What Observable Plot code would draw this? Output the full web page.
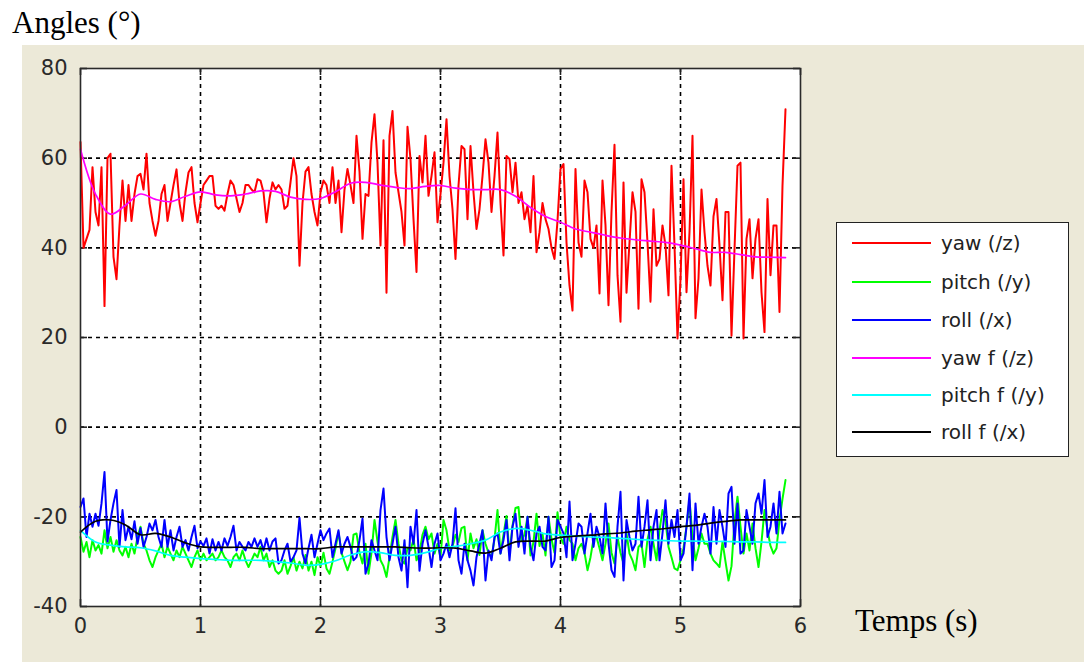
<!DOCTYPE html>
<html><head><meta charset="utf-8">
<script src="https://cdn.jsdelivr.net/npm/d3@7"></script>
<script src="https://cdn.jsdelivr.net/npm/@observablehq/plot@0.6"></script>
<style>
body{margin:0;background:#fff;}
#wrap{position:relative;width:1084px;height:662px;overflow:hidden;}
#panel{position:absolute;left:22px;top:45px;width:1062px;height:617px;background:#ECE9D8;}
#chart{position:absolute;left:0;top:0;}
.t{position:absolute;font-family:"Liberation Serif","Times New Roman",serif;font-size:31px;line-height:31px;color:#000;white-space:nowrap;}
#legend{position:absolute;left:836px;top:222px;width:231px;height:233px;border:1.5px solid #222;background:#fff;}
.row{position:absolute;left:0;height:26px;display:flex;align-items:center;font-family:"DejaVu Sans",sans-serif;font-size:20px;color:#222;white-space:nowrap;}
.sw{display:inline-block;width:79px;height:0;border-top:2px solid #000;margin-left:15px;margin-right:10px;}
</style>
</head><body>
<div id="wrap">
  <div id="panel"></div>
  <div id="chart"></div>
  <div class="t" id="title" style="left:12px;top:7px;">Angles (°)</div>
  <div class="t" id="xlab" style="left:855px;top:605px;">Temps (s)</div>
  <div id="legend"></div>
</div>
<script>
// ---- data ----
const dtRaw = 0.025;   // sampling step of raw signals (s)
const dtFilt = 0.125;  // step of filtered signals (s)

const yaw = [63.6,40,42,44,58,48,45,58,27,60,
61,38,33,45,55,46,54,46,52,56,
56.5,53,61,50,46,42.7,46,52,54,46,
50,54,57.5,50,46,52.4,56.8,58,50,45.7,
50,54,55,56,56,49.4,48.7,49.4,48.3,52,
55,54,51,48,50,54,54,53,52.4,55.3,
55,52.4,45.7,51,54.6,53,54,53,48.7,49.4,
54.6,60,56,36,50,57,58,52,48,45,
52.4,
55,54,50,58,50,55,43.5,53,57.6,54,
50,65,57,42,52,51.6,63.5,69.8,59,40.5,
64,30,65,70.5,56.8,52.4,48,40.5,67,59.8,
46.4,34.6,60.5,54.6,65,51.6,56,61.3,45.7,52,
59,68.7,56,48.6,37.5,53.9,62.7,62,46.4,62.7,
52.4,44.2,48.6,56,64.2,59,48,56,65.7,50,
38.3,60.5,59.8,52.4,59,50,52.4,46.4,49.4,43.5,
56,39,43.5,50,46.4,44.2,40,37.5,46,57.6,
58.7,41.2,31.6,26,57.6,41.2,38,55,52.4,42,
40,45,29.8,55,45,27.2,48,63,33.9,23.5,
54.6,30,41.2,52.4,48,26.4,55.3,52.4,41.2,28,
48.6,36,37.5,45,40.5,29.4,58.3,40.5,19.8,33,
55.3,30.1,43.5,65,24.3,33.2,53,43.5,36,31.6,
47,50.9,40.5,28.3,48,48,20.4,39.7,58.3,59,
19.8,42,46.4,33.2,42,46.4,30.1,21.2,50.9,33.9,
45,45,25.7,53.9,70.9];

const pitch = [-24.5,-27.8,-25.6,-29,-25.2,-27.5,-26.3,-28.2,-23,-27,
-24.5,-27.8,-25.2,-27.5,-28.6,-26.7,-29,-26,-28.2,-24.5,
-22.2,-26,-27.5,-29.7,-31.2,-29,-27.5,-26,-29,-26.7,
-28.2,-29.7,-27.5,-29,-26.7,-28.2,-29.7,-31.2,-29,-27.5,
-29.7,-28.2,-29.7,-29,-28.2,-29.7,-29,-27.5,-29,-29.7,
-31.2,-29,-28.2,-29.7,-27.5,-29.7,-31.2,-29.7,-28.2,-29,
-26.7,-29.7,-28.2,-31.2,-29.7,-32,-32.7,-32,-29.7,-32.7,
-31,-29,-32,-30,-31.5,-28.5,-32,-30,-33,-29,
-31,
-28,-31.5,-32.7,-30,-27,-23.4,-28,-30,-31.9,-30,
-24,-23.7,-28,-30.4,-26,-32.7,-28,-20.7,-25.5,-29.7,
-31,-33.4,-29,-24.5,-20.7,-26,-29.7,-30.4,-27,-27.5,
-25,-29.7,-28,-24,-22.2,-25,-23.7,-28.2,-26,-29,
-20.7,-23,-27.5,-26.7,-24,-25.6,-22.5,-22.2,-29.7,-23.7,
-27,-25,-28.5,-23,-26,-28,-29,-25,-18.5,-28.2,
-24,-19.8,-28.2,-22,-18,-17.8,-25.2,-24,-20,-28.6,
-25.6,-19.3,-26.5,-23.7,-28.6,-20,-25,-28,-19,-24.5,
-26,-22.2,-25.2,-26,-29.7,-27,-26,-28,-31.9,-29,
-25,-24.5,-27,-29.7,-26,-21.5,-28,-30.4,-24.5,-28,
-30.4,-23.7,-28.2,-29.7,-31.9,-26.7,-26,-31.2,-25,-22.2,
-26,-29.7,-23,-18.5,-21,-26.7,-29,-31.5,-31.9,-29.7,
-27,-22.2,-16.3,-24.5,-29.7,-27,-23.7,-26,-26,-28.2,
-29.7,-30.4,-31.2,-25.6,-30,-34.2,-31,-21,-15.5,-22.2,
-28.2,-23.7,-27.5,-21.5,-27,-31.2,-25.6,-18.5,-23,-26.5,
-28.2,-27,-20.7,-16,-11.8];

const roll = [-17.8,-15.9,-24.5,-19.3,-22.2,-19.3,-22,-17,-10,-25.5,
-20.7,-17,-14,-26.7,-18.5,-25.2,-22.2,-25,-21,-26,
-22.5,-26.7,-24.5,-21.5,-23,-20.7,-24.5,-26.7,-20.7,-26.7,
-23,-27.5,-24.5,-22.2,-26.7,-25.2,-27.5,-24.5,-22,-27,
-25.5,-26.5,-24.8,-28.2,-25,-27.5,-25.6,-27.5,-24.8,-26.5,
-24.5,-22,-27.5,-25.6,-26.7,-27.5,-25.6,-26.7,-24.8,-26.7,
-25.2,-27.5,-24.8,-27.5,-25.5,-24.8,-30.4,-29.7,-27.5,-26,
-30,-29,-27.5,-20.2,-28.2,-30.4,-27,-24,-29,-26,
-23,
-25.2,-23.7,-22.6,-29,-26,-23,-28.2,-26,-24.5,-26.7,
-29.7,-29,-25.2,-20.4,-32.7,-30.4,-25.2,-27.5,-29.7,-18.5,
-13.7,-24.5,-29.7,-26,-22.2,-29,-32,-25.2,-35.7,-22.2,
-26,-18.5,-32,-26,-23,-26.7,-31.2,-26,-23.7,-29.7,
-28.2,-26,-29,-26,-18.1,-29.7,-32.7,-26,-29.7,-32,
-35.3,-29,-26,-23,-34.2,-27.5,-29.7,-24.5,-23.7,-28.2,
-25.2,-20.7,-29.7,-22.2,-19.3,-26.7,-22.2,-28.2,-20,-26.7,
-29.7,-23.7,-22.2,-26.7,-27.5,-20,-31.2,-29.7,-20.7,-22.2,
-23.7,-29,-16.6,-29.7,-26,-21.5,-22.2,-28.2,-23.7,-19.3,
-26.7,-22.2,-24.5,-28.2,-17,-26,-31.9,-33.4,-22.2,-14.4,
-34.2,-20.7,-24.5,-27.5,-26,-15.5,-26.7,-22.2,-16.3,-29.7,
-22.2,-18.5,-29.7,-23.7,-16.3,-26,-20.7,-24.5,-18.5,-29.7,
-28.2,-22.2,-14.8,-31.9,-17,-26,-22.2,-19.3,-22.2,-28.2,
-17.8,-26,-18.5,-22.2,-26.7,-14.8,-13.3,-26,-17,-28.2,
-27.5,-18.5,-22.2,-26,-17,-14.8,-19.3,-11.8,-24.5,-22.2,
-17,-23.7,-14.4,-23.7,-21.5];

const yawF = [62,52,47.5,49.5,52,50.8,50.3,51.5,52.5,51.8,
51.6,52,52.7,52.6,51.3,50.8,51,52.5,54.4,54.6,
54,53.5,53.2,53.7,53.9,53.3,53,53,53,51.5,
49,47,45.7,44.2,43.5,42.8,42.2,41.8,41.5,41.2,
40.6,39.8,39,39,38.5,38,37.9,37.8];

const pitchF = [-23,-25.6,-26.3,-26.7,-26.9,-27.6,-28.6,-29,-29.3,-29.5,
-29.7,-29.7,-29.7,-30,-30.3,-30.8,-30.6,-29.8,-28.5,-27.8,
-28,-28.6,-28.6,-28,-27,-26.6,-26,-25.2,-23.4,-22.6,
-23,-23.8,-24.1,-24.3,-24.5,-24.6,-24.8,-25,-25.2,-25.3,
-25.4,-25.4,-25.5,-25.5,-25.6,-25.6,-25.7,-25.7];

const rollF = [-23.4,-21,-20.7,-21.8,-24,-23.7,-24.5,-25.8,-26.7,-26.8,
-26.8,-26.8,-27.1,-27.1,-27.1,-27.1,-27.1,-26.7,-26.7,-26.7,
-26.7,-26.7,-26.9,-27,-26.9,-27,-27.6,-28.1,-27,-25.6,
-25.4,-25.4,-24.6,-24.3,-24.1,-23.8,-23.6,-23.2,-22.9,-22.6,
-22.2,-21.9,-21.4,-21,-20.7,-20.7,-20.7,-20.7];

const xTicks = [0,1,2,3,4,5,6];
const xTickLabels = ["0","1","2","3","4","5","6"];
const yTicks = [-40,-20,0,20,40,60,80];
const yTickLabels = ["-40","-20","0","20","40","60","80"];

const seriesNames = ["yaw (/z)","pitch (/y)","roll (/x)","yaw f (/z)","pitch f (/y)","roll f (/x)"];
const seriesColors = ["#FF0000","#00FF00","#0000FF","#FF00FF","#00FFFF","#000000"];

// ---- build ----
const rawRows = (arr, name) => arr.map((v,i)=>({t:i*dtRaw, v, s:name}));
const filtRows = (arr, name) => arr.map((v,i)=>({t:i*dtFilt, v, s:name}));

const tickLenX = 7/120;   // ~7px inward ticks
const tickLenY = 7/4.485;

const chart = Plot.plot({
  width:1084, height:662,
  marginLeft:80, marginRight:284, marginTop:68, marginBottom:56,
  x:{domain:[0,6]},
  y:{domain:[-40,80]},
  style:{background:"transparent", fontFamily:"DejaVu Sans, sans-serif", fontSize:"21px", color:"#2a2a2a", overflow:"visible"},
  marks:[
    Plot.frame({fill:"white", stroke:null}),
    Plot.gridX(xTicks.slice(1,-1), {stroke:"#000", strokeOpacity:1, strokeWidth:1.6, strokeDasharray:"4,4"}),
    Plot.gridY(yTicks.slice(1,-1), {stroke:"#000", strokeOpacity:1, strokeWidth:1.6, strokeDasharray:"4,4"}),
    Plot.ruleY(yTicks, {y:d=>d, x1:0, x2:tickLenX, stroke:"#222", strokeWidth:1.6}),
    Plot.ruleY(yTicks, {y:d=>d, x1:6-tickLenX, x2:6, stroke:"#222", strokeWidth:1.6}),
    Plot.ruleX(xTicks, {x:d=>d, y1:-40, y2:-40+tickLenY, stroke:"#222", strokeWidth:1.6}),
    Plot.ruleX(xTicks, {x:d=>d, y1:80-tickLenY, y2:80, stroke:"#222", strokeWidth:1.6}),
    Plot.line(rawRows(yaw,"yaw"), {x:"t", y:"v", stroke:seriesColors[0], strokeWidth:2}),
    Plot.line(rawRows(pitch,"pitch"), {x:"t", y:"v", stroke:seriesColors[1], strokeWidth:2}),
    Plot.line(rawRows(roll,"roll"), {x:"t", y:"v", stroke:seriesColors[2], strokeWidth:2}),
    Plot.line(filtRows(yawF,"yawF"), {x:"t", y:"v", stroke:seriesColors[3], strokeWidth:1.7, curve:"catmull-rom"}),
    Plot.line(filtRows(pitchF,"pitchF"), {x:"t", y:"v", stroke:seriesColors[4], strokeWidth:1.7, curve:"catmull-rom"}),
    Plot.line(filtRows(rollF,"rollF"), {x:"t", y:"v", stroke:seriesColors[5], strokeWidth:1.7, curve:"catmull-rom"}),
    Plot.frame({stroke:"#2a2a2a", strokeWidth:1.6}),
    Plot.axisY({ticks:yTicks, tickSize:0, tickPadding:13, label:null, tickFormat:d=>yTickLabels[yTicks.indexOf(d)]}),
    Plot.axisX({ticks:xTicks, tickSize:0, tickPadding:12, label:null, tickFormat:d=>xTickLabels[xTicks.indexOf(d)]})
  ]
});
document.getElementById("chart").appendChild(chart);

// legend
const legend = document.getElementById("legend");
const rowTops = [243,282,320,358,395,432];
seriesNames.forEach((name,i)=>{
  const r = document.createElement("div");
  r.className = "row";
  r.style.top = (rowTops[i]-222-1.5-13)+"px";
  const sw = document.createElement("span");
  sw.className = "sw";
  sw.style.borderTopColor = seriesColors[i];
  r.appendChild(sw);
  const tx = document.createElement("span");
  tx.textContent = name;
  r.appendChild(tx);
  legend.appendChild(r);
});
</script>
</body></html>
